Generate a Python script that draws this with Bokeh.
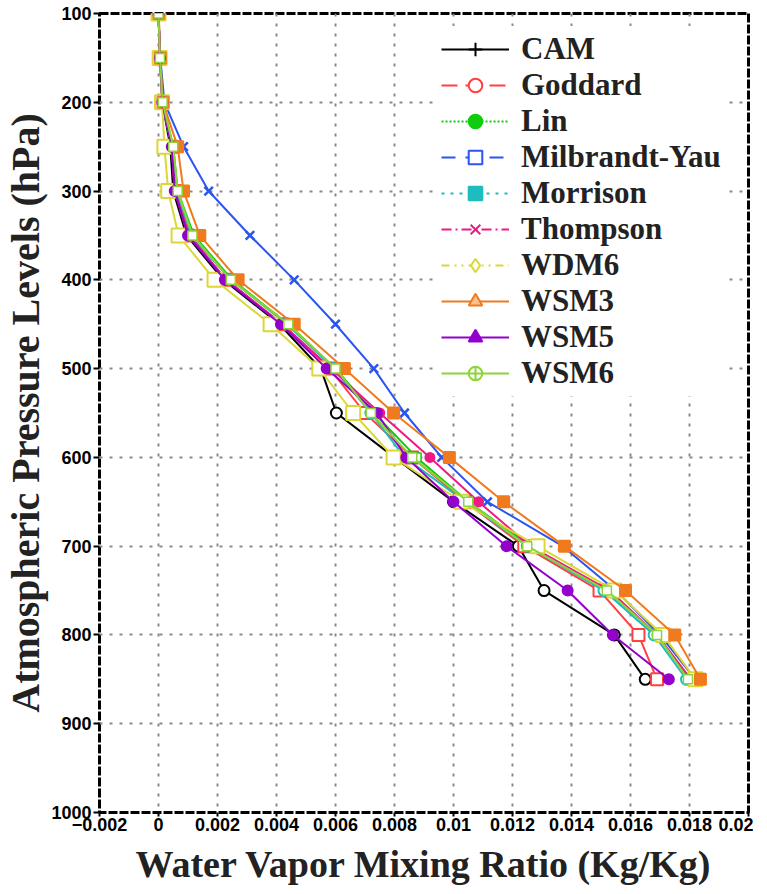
from bokeh.plotting import figure
from bokeh.models import Range1d, FixedTicker, CustomJSTickFormatter, Legend, LegendItem
from bokeh.embed import file_html
from bokeh.resources import INLINE

# ---------------- data ----------------
levels = [100, 150, 200, 250, 300, 350, 400, 450, 500, 550, 600, 650, 700, 750, 800, 850]

cam      = [0.00000, 0.00005, 0.00013, 0.00040, 0.00050, 0.00095, 0.00220, 0.00410, 0.00550, 0.00603, 0.00800, 0.01000, 0.01220, 0.01307, 0.01545, 0.01650]
goddard  = [0.00000, 0.00005, 0.00013, 0.00045, 0.00055, 0.00100, 0.00230, 0.00420, 0.00580, 0.00700, 0.00860, 0.01040, 0.01240, 0.01495, 0.01627, 0.01690]
lin      = [0.00000, 0.00005, 0.00014, 0.00050, 0.00065, 0.00120, 0.00250, 0.00440, 0.00600, 0.00730, 0.00875, 0.01050, 0.01260, 0.01520, 0.01690, 0.01800]
milbrandt= [0.00000, 0.00006, 0.00020, 0.00085, 0.00170, 0.00310, 0.00460, 0.00600, 0.00730, 0.00834, 0.00960, 0.01115, 0.01370, 0.01550, 0.01700, 0.01820]
morrison = [0.00000, 0.00005, 0.00013, 0.00045, 0.00060, 0.00110, 0.00245, 0.00435, 0.00595, 0.00720, 0.00834, 0.01040, 0.01250, 0.01510, 0.01680, 0.01790]
thompson = [0.00000, 0.00005, 0.00013, 0.00045, 0.00055, 0.00105, 0.00230, 0.00420, 0.00585, 0.00750, 0.00920, 0.01085, 0.01260, 0.01530, 0.01690, 0.01805]
wdm6     = [0.00000, 0.00004, 0.00012, 0.00020, 0.00033, 0.00068, 0.00190, 0.00380, 0.00545, 0.00660, 0.00797, 0.01027, 0.01285, 0.01546, 0.01710, 0.01820]
wsm3     = [0.00001, 0.00006, 0.00015, 0.00065, 0.00085, 0.00140, 0.00270, 0.00460, 0.00630, 0.00797, 0.00986, 0.01170, 0.01376, 0.01583, 0.01750, 0.01837]
wsm5     = [0.00000, 0.00005, 0.00013, 0.00045, 0.00055, 0.00100, 0.00225, 0.00415, 0.00570, 0.00740, 0.00840, 0.01000, 0.01180, 0.01387, 0.01540, 0.01730]
wsm6     = [0.00000, 0.00005, 0.00014, 0.00050, 0.00065, 0.00115, 0.00245, 0.00440, 0.00600, 0.00720, 0.00860, 0.01050, 0.01250, 0.01520, 0.01690, 0.01795]

names = ["CAM", "Goddard", "Lin", "Milbrandt-Yau", "Morrison", "Thompson", "WDM6", "WSM3", "WSM5", "WSM6"]
values = [cam, goddard, lin, milbrandt, morrison, thompson, wdm6, wsm3, wsm5, wsm6]

x_ticks = [-0.002, 0.0, 0.002, 0.004, 0.006, 0.008, 0.01, 0.012, 0.014, 0.016, 0.018, 0.02]
x_labels = ["\u22120.002", "0", "0.002", "0.004", "0.006", "0.008", "0.01", "0.012", "0.014", "0.016", "0.018", "0.02"]
y_ticks = [100, 200, 300, 400, 500, 600, 700, 800, 900, 1000]

# ---------------- styles ----------------
colors = ["#000000", "#FF4040", "#10CC10", "#2A55F0", "#1DBDBD", "#EE1A84", "#DCD636", "#F07A1E", "#9400CC", "#8CD43A"]
legend_dash = ["solid", "16 8", "2 2", "14 10", "3 6", "10 4 2 4", "8 5 2 5 2 5", "solid", "solid", "solid"]
legend_marker = ["cross", "circle", "circle", "square", "square", "x", "diamond", "triangle", "triangle", "circle_cross"]
legend_fill = [None, "white", "c", "white", "c", None, "white", "#F8C090", "c", "white"]

chart_marker = ["circle", "square", "square", "x", "circle", "circle", "square", "square", "circle", "square"]
chart_fill = ["white", "white", "white", None, "white", "c", "white", "c", "c", "white"]
chart_size = [11, 12, 9, 12, 11, 9, 14, 11, 10, 9]
chart_lw = [2, 2, 1.5, 2.5, 2, 2, 2, 2, 2, 1.5]

p = figure(frame_width=649, frame_height=799,
           x_range=Range1d(-0.002, 0.02), y_range=Range1d(1000, 100),
           output_backend="svg", toolbar_location=None,
           min_border_left=98, min_border_right=5, min_border_top=13, min_border_bottom=70,
           background_fill_color="white", border_fill_color="white")

p.outline_line_color = "black"
p.outline_line_width = 3
p.outline_line_dash = "9 2"

p.xaxis.ticker = FixedTicker(ticks=x_ticks)
p.yaxis.ticker = FixedTicker(ticks=y_ticks)
p.xaxis.formatter = CustomJSTickFormatter(args=dict(xt=x_ticks, xl=x_labels), code="""
const i = xt.findIndex(t => Math.abs(t - tick) < 1e-9);
return i >= 0 ? xl[i] : '';
""")

for ax in (p.xaxis, p.yaxis):
    ax.axis_line_color = None
    ax.major_tick_line_color = "black"
    ax.major_tick_line_width = 2
    ax.major_tick_in = 0
    ax.minor_tick_line_color = None
    ax.major_label_text_font = "Liberation Sans"
    ax.major_label_text_font_style = "bold"
    ax.major_label_text_font_size = "18px"
    ax.major_label_text_color = "black"
    ax.axis_label_text_font = "Liberation Serif"
    ax.axis_label_text_font_style = "bold"
    ax.axis_label_text_color = "#222222"

p.xaxis.major_tick_out = 4
p.yaxis.major_tick_out = 6
p.xaxis.major_label_standoff = 1
p.yaxis.major_label_standoff = 2
p.xaxis.axis_label = "Water Vapor Mixing Ratio (Kg/Kg)"
p.yaxis.axis_label = "Atmospheric Pressure Levels (hPa)"
p.xaxis.axis_label_text_font_size = "38px"
p.yaxis.axis_label_text_font_size = "40px"
p.xaxis.axis_label_standoff = 9
p.yaxis.axis_label_standoff = 0

for g in (p.xgrid, p.ygrid):
    g.grid_line_color = "#8a8a8a"
    g.grid_line_width = 2
    g.grid_line_dash = "3 7"

items = []
for i, (name, vals) in enumerate(zip(names, values)):
    c = colors[i]
    p.line(x=vals, y=levels, line_color=c, line_width=2)
    cf = chart_fill[i]
    p.scatter(x=vals, y=levels, marker=chart_marker[i], size=chart_size[i],
              line_color=c, line_width=chart_lw[i],
              fill_color=(c if cf == "c" else cf), fill_alpha=(1 if cf else 0))
    # legend-only renderers (hidden in the plot, shown in the legend)
    lr = p.line(x=vals, y=levels, line_color=c, line_width=2, line_dash=legend_dash[i], visible=False)
    lf = legend_fill[i]
    lm = p.scatter(x=vals, y=levels, marker=legend_marker[i], size=11, line_color=c, line_width=2,
                   fill_color=(c if lf == "c" else lf), fill_alpha=(1 if lf else 0), visible=False)
    items.append(LegendItem(label=name, renderers=[lr, lm]))

legend = Legend(items=items, location=(337, 416),
                glyph_width=68, glyph_height=34, label_height=34, label_standoff=12,
                spacing=0, padding=5, margin=0,
                border_line_alpha=0, background_fill_color="white", background_fill_alpha=1,
                inactive_fill_alpha=0,
                label_text_font="Liberation Serif", label_text_font_style="bold",
                label_text_font_size="31px", label_text_color="#222222")
p.add_layout(legend)

open("out.html", "w").write(file_html(p, INLINE))
